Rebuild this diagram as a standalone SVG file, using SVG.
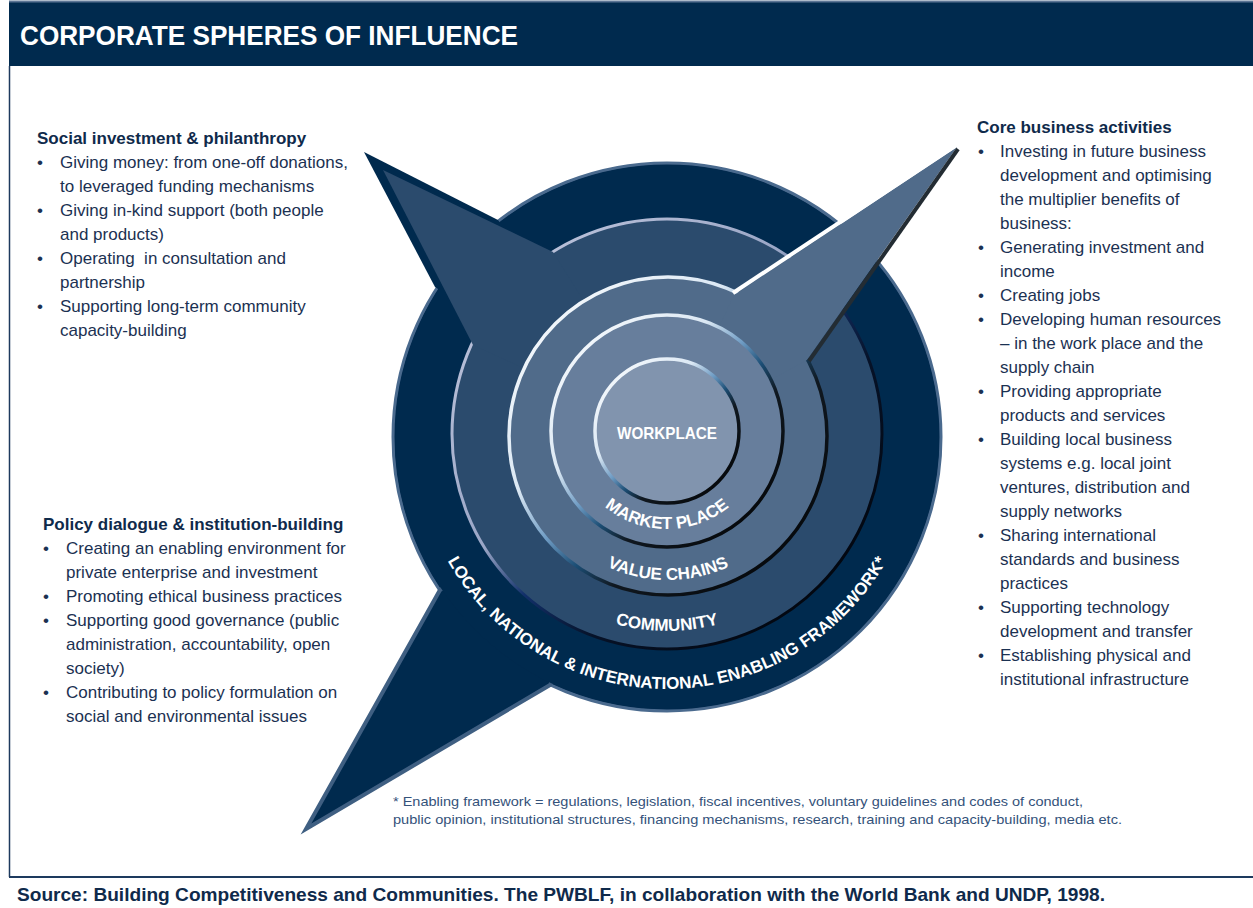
<svg xmlns="http://www.w3.org/2000/svg" xmlns:xlink="http://www.w3.org/1999/xlink" width="1253" height="908" viewBox="0 0 1253 908">
<defs>
<style>
.body{font-family:"Liberation Sans",Arial,sans-serif;font-size:17px;fill:#1b3152}
.hd{font-family:"Liberation Sans",Arial,sans-serif;font-size:17px;font-weight:bold;fill:#0f2a4b}
.lbl{font-family:"Liberation Sans",Arial,sans-serif;font-size:17px;font-weight:bold;fill:#ffffff}
.foot{font-family:"Liberation Sans",Arial,sans-serif;font-size:13.5px;fill:#34527a}
</style>
<linearGradient id="edgeLight" x1="0" y1="0" x2="1" y2="1">
<stop offset="0" stop-color="#ffffff"/>
<stop offset="0.35" stop-color="#dbe8f4"/>
<stop offset="0.47" stop-color="#6f9cc4"/>
<stop offset="0.56" stop-color="#1b4d74"/>
<stop offset="0.65" stop-color="#101820"/>
<stop offset="1" stop-color="#000000"/>
</linearGradient>
<linearGradient id="edgeComm" x1="0" y1="0" x2="1" y2="1">
<stop offset="0" stop-color="#c8cde2"/>
<stop offset="0.42" stop-color="#9aa6c6"/>
<stop offset="0.52" stop-color="#12306a"/>
<stop offset="0.65" stop-color="#061228"/>
<stop offset="1" stop-color="#000000"/>
</linearGradient>
<path id="pMP" d="M 569 431 A 98 98 0 0 0 765 431"/>
<path id="pVC" d="M 524 436 A 144 144 0 0 0 812 436"/>
<path id="pCM" d="M 470 434 A 197 197 0 0 0 864 434"/>
<path id="pLF" d="M 415 437 A 252 252 0 0 0 919 437"/>
</defs>

<rect width="1253" height="908" fill="#ffffff"/>

<g id="header">
<rect x="9" y="1" width="1244" height="65" fill="#002a4e"/>
<line x1="9" y1="1.5" x2="1253" y2="1.5" stroke="#5b7494" stroke-width="2"/>
<text x="20" y="45" font-family="Liberation Sans,Arial,sans-serif" font-size="28" font-weight="bold" fill="#ffffff" textLength="498" lengthAdjust="spacingAndGlyphs">CORPORATE SPHERES OF INFLUENCE</text>
</g>

<g id="frame">
<line x1="9.5" y1="66" x2="9.5" y2="877" stroke="#1d3a5e" stroke-width="1.5"/>
<line x1="9" y1="877" x2="1253" y2="877" stroke="#1d3a5e" stroke-width="2"/>
</g>

<g id="spheres">
<circle cx="667" cy="437" r="274" fill="#002a4e" stroke="#4a6a8e" stroke-width="3"/>
<polygon id="spike-bottom-left" points="306,829 440,590 667,437 550,685" fill="#002a4e" stroke="#3f5f82" stroke-width="4" stroke-linejoin="miter"/>
<polygon id="spike-top-left-outline" points="364,152 498,220 667,437 435,287" fill="#002a4e"/>
<circle cx="667" cy="437" r="272" fill="#002a4e"/>
<circle cx="667" cy="434" r="215" fill="#2b4b6d" stroke="url(#edgeComm)" stroke-width="3"/>
<polygon id="spike-top-left" points="383,170 553,252 667,434 473,345" fill="#2b4b6d"/>
<circle cx="668" cy="436" r="159" fill="#506b8a" stroke="url(#edgeLight)" stroke-width="3.5"/>
<g id="spike-top-right">
<polygon points="957,147 734,295 668,436 807,360" fill="#506b8a"/>
<line x1="733" y1="293" x2="955" y2="146" stroke="#ffffff" stroke-width="4"/>
<line x1="809" y1="361" x2="958" y2="149" stroke="#232c33" stroke-width="4"/>
</g>
<circle cx="667" cy="431" r="116" fill="#677e9c" stroke="url(#edgeLight)" stroke-width="3.5"/>
<circle cx="667" cy="431" r="72" fill="#8194ae" stroke="url(#edgeLight)" stroke-width="3.5"/>
</g>

<g id="sphere-labels">
<text class="lbl" x="667" y="439" text-anchor="middle" font-size="18" textLength="100" lengthAdjust="spacingAndGlyphs">WORKPLACE</text>
<text class="lbl"><textPath xlink:href="#pMP" startOffset="50%" text-anchor="middle">MARKET PLACE</textPath></text>
<text class="lbl"><textPath xlink:href="#pVC" startOffset="50%" text-anchor="middle">VALUE CHAINS</textPath></text>
<text class="lbl"><textPath xlink:href="#pCM" startOffset="50%" text-anchor="middle">COMMUNITY</textPath></text>
<text class="lbl" font-size="16.5"><textPath xlink:href="#pLF" startOffset="50%" text-anchor="middle">LOCAL, NATIONAL &amp; INTERNATIONAL ENABLING FRAMEWORK*</textPath></text>
</g>

<g id="social-investment">
<text class="hd" x="37" y="144">Social investment &amp; philanthropy</text>
<text class="body" x="37" y="168">•</text><text class="body" x="60" y="168">Giving money: from one-off donations,</text>
<text class="body" x="60" y="192">to leveraged funding mechanisms</text>
<text class="body" x="37" y="216">•</text><text class="body" x="60" y="216">Giving in-kind support (both people</text>
<text class="body" x="60" y="240">and products)</text>
<text class="body" x="37" y="264">•</text><text class="body" x="60" y="264" xml:space="preserve">Operating  in consultation and</text>
<text class="body" x="60" y="288">partnership</text>
<text class="body" x="37" y="312">•</text><text class="body" x="60" y="312">Supporting long-term community</text>
<text class="body" x="60" y="336">capacity-building</text>
</g>

<g id="policy-dialogue">
<text class="hd" x="43" y="530">Policy dialogue &amp; institution-building</text>
<text class="body" x="43" y="554">•</text><text class="body" x="66" y="554">Creating an enabling environment for</text>
<text class="body" x="66" y="578">private enterprise and investment</text>
<text class="body" x="43" y="602">•</text><text class="body" x="66" y="602">Promoting ethical business practices</text>
<text class="body" x="43" y="626">•</text><text class="body" x="66" y="626">Supporting good governance (public</text>
<text class="body" x="66" y="650">administration, accountability, open</text>
<text class="body" x="66" y="674">society)</text>
<text class="body" x="43" y="698">•</text><text class="body" x="66" y="698">Contributing to policy formulation on</text>
<text class="body" x="66" y="722">social and environmental issues</text>
</g>

<g id="core-business">
<text class="hd" x="977" y="133">Core business activities</text>
<text class="body" x="978" y="157">•</text><text class="body" x="1000" y="157">Investing in future business</text>
<text class="body" x="1000" y="181">development and optimising</text>
<text class="body" x="1000" y="205">the multiplier benefits of</text>
<text class="body" x="1000" y="229">business:</text>
<text class="body" x="978" y="253">•</text><text class="body" x="1000" y="253">Generating investment and</text>
<text class="body" x="1000" y="277">income</text>
<text class="body" x="978" y="301">•</text><text class="body" x="1000" y="301">Creating jobs</text>
<text class="body" x="978" y="325">•</text><text class="body" x="1000" y="325">Developing human resources</text>
<text class="body" x="1000" y="349">– in the work place and the</text>
<text class="body" x="1000" y="373">supply chain</text>
<text class="body" x="978" y="397">•</text><text class="body" x="1000" y="397">Providing appropriate</text>
<text class="body" x="1000" y="421">products and services</text>
<text class="body" x="978" y="445">•</text><text class="body" x="1000" y="445">Building local business</text>
<text class="body" x="1000" y="469">systems e.g. local joint</text>
<text class="body" x="1000" y="493">ventures, distribution and</text>
<text class="body" x="1000" y="517">supply networks</text>
<text class="body" x="978" y="541">•</text><text class="body" x="1000" y="541">Sharing international</text>
<text class="body" x="1000" y="565">standards and business</text>
<text class="body" x="1000" y="589">practices</text>
<text class="body" x="978" y="613">•</text><text class="body" x="1000" y="613">Supporting technology</text>
<text class="body" x="1000" y="637">development and transfer</text>
<text class="body" x="978" y="661">•</text><text class="body" x="1000" y="661">Establishing physical and</text>
<text class="body" x="1000" y="685">institutional infrastructure</text>
</g>

<g id="footnote">
<text class="foot" x="393" y="806" textLength="690" lengthAdjust="spacingAndGlyphs">* Enabling framework = regulations, legislation, fiscal incentives, voluntary guidelines and codes of conduct,</text>
<text class="foot" x="393" y="824" textLength="729" lengthAdjust="spacingAndGlyphs">public opinion, institutional structures, financing mechanisms, research, training and capacity-building, media etc.</text>
</g>

<g id="source">
<text x="17" y="901" font-family="Liberation Sans,Arial,sans-serif" font-size="19" font-weight="bold" fill="#0f2a4b" textLength="1088" lengthAdjust="spacingAndGlyphs">Source: Building Competitiveness and Communities. The PWBLF, in collaboration with the World Bank and UNDP, 1998.</text>
</g>
</svg>
